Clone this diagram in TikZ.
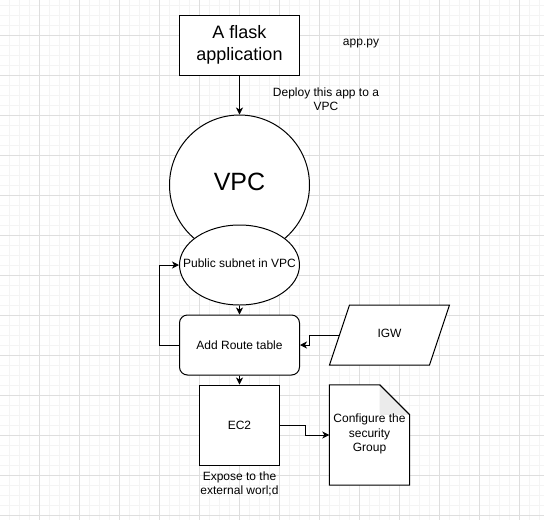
\documentclass[tikz,border=0pt]{standalone}
\usepackage{fontspec}
\setmainfont{Liberation Sans}
\usetikzlibrary{shapes.geometric,arrows.meta,calc}
\definecolor{minorgrid}{RGB}{244,244,244}
\definecolor{majorgrid}{RGB}{222,222,222}
\definecolor{foldgray}{RGB}{235,235,235}
\tikzset{
  box/.style={draw=black, line width=1pt, fill=white, inner sep=0pt, align=center},
  plain/.style={inner sep=0pt, align=center, font=\fontsize{12}{14.4}\selectfont},
  arr/.style={draw=black, line width=1pt, -{Stealth[length=7pt,width=7pt,inset=2pt]}},
}
\begin{document}
\begin{tikzpicture}[x=1pt,y=-1pt]
\useasboundingbox (0,0) rectangle (544,520);
\fill[white] (0,0) rectangle (544,520);
% grid
\foreach \x in {9.5,19.5,...,544} \draw[minorgrid, line width=1pt] (\x,0) -- (\x,520);
\foreach \y in {5,15,...,520} \draw[minorgrid, line width=1pt] (0,\y) -- (544,\y);
\foreach \x in {39.5,79.5,...,544} \draw[majorgrid, line width=1pt] (\x,0) -- (\x,520);
\foreach \y in {35,75,...,520} \draw[majorgrid, line width=1pt] (0,\y) -- (544,\y);

% nodes
\node[box, minimum width=120pt, minimum height=60pt, font=\fontsize{18}{22}\selectfont] (flask) at (239.5,45) {A flask\\application};
\node[box, circle, minimum size=140pt, font=\fontsize{25}{30}\selectfont] (vpc) at (239.5,185) {};
\node[font=\fontsize{25}{30}\selectfont, inner sep=0pt] (vpclabel) at (239.5,182) {VPC};
\node[box, ellipse, minimum width=120pt, minimum height=80pt, font=\fontsize{12}{14.4}\selectfont] (subnet) at (239.5,265) {};
\node[plain] (subnetlabel) at (239.5,263) {Public subnet in VPC};
\node[box, rounded corners=8pt, minimum width=120pt, minimum height=60pt, font=\fontsize{12}{14.4}\selectfont] (route) at (239.5,345) {Add Route table};
\node[box, minimum width=80pt, minimum height=80pt, font=\fontsize{12}{14.4}\selectfont] (ec2) at (239.5,425) {EC2};

% IGW parallelogram
\node[inner sep=0pt, minimum width=100pt, minimum height=60pt] (igw) at (389.5,335) {};
\draw[line width=1pt, fill=white] (349.5,305) -- (449.5,305) -- (429.5,365) -- (329.5,365) -- cycle;
\node[plain] (igwlabel) at (389.5,333) {IGW};

% document
\node[inner sep=0pt, minimum width=80pt, minimum height=100pt] (doc) at (369.5,435) {};
\draw[line width=1pt, fill=white] (doc.north west) -- ($(doc.north east)+(-30,0)$) -- ($(doc.north east)+(0,30)$) -- (doc.south east) -- (doc.south west) -- cycle;
\fill[foldgray] ($(doc.north east)+(-30,0)$) -- ($(doc.north east)+(0,30)$) -- ($(doc.north east)+(-30,30)$) -- cycle;
\draw[line width=1pt] ($(doc.north east)+(-30,0)$) -- ($(doc.north east)+(0,30)$);
\node[plain] (doclabel) at (369.5,434) {Configure the\\security\\Group};

% text labels
\node[plain] (apppy) at (361,44) {app.py};
\node[plain] (deploy) at (326,99) {Deploy this app to a\\VPC};
\node[plain] (expose) at (239.5,484) {Expose to the\\external worl;d};

% connectors
\draw[arr] (flask.south) -- (vpc.north);
\draw[arr] (subnet.south) -- (route.north);
\draw[arr] (route.south) -- (ec2.north);
\draw[arr] (route.west) -- ++(-20,0) |- (subnet.west);
\draw[arr] (igw.west) -- ++(-30,0) |- (route.east);
\draw[arr] (ec2.east) -- ++(25,0) |- (doc.west);
\end{tikzpicture}
\end{document}
